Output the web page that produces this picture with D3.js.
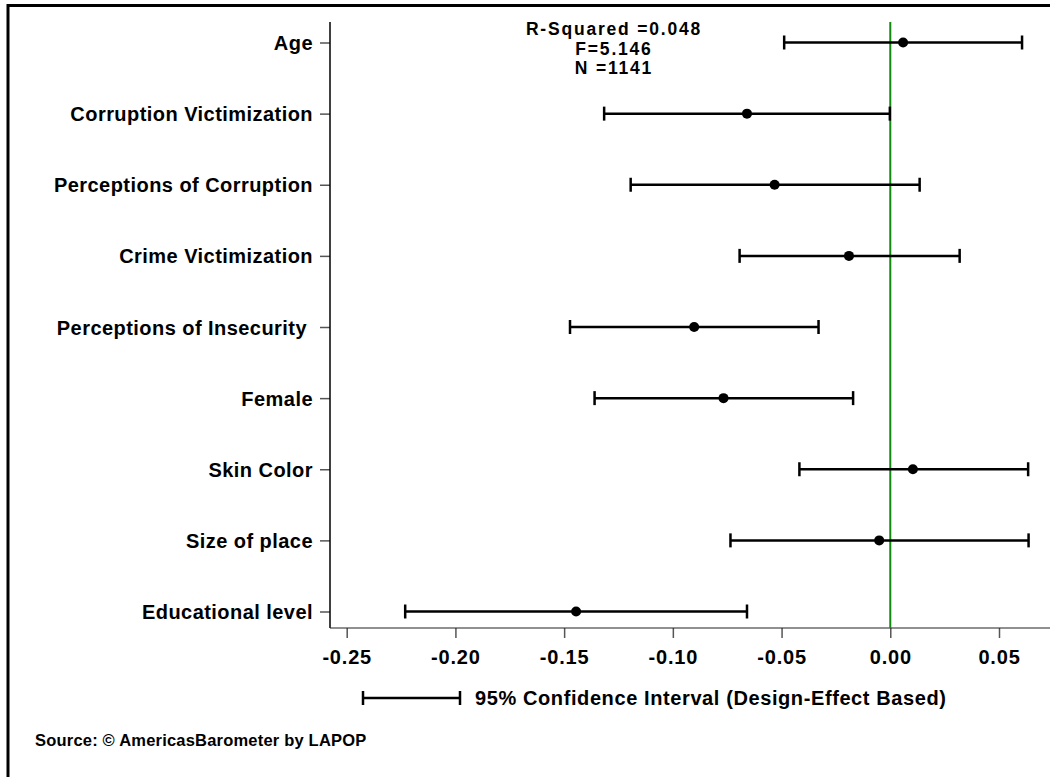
<!DOCTYPE html>
<html>
<head>
<meta charset="utf-8">
<script src="https://cdn.jsdelivr.net/npm/d3@7"></script>
<style>
  html, body { margin: 0; padding: 0; background: #fff; }
  svg { display: block; }
  text { font-family: "Liberation Sans", Arial, sans-serif; font-weight: bold; fill: #000; }
</style>
</head>
<body>
<svg id="chart" width="1050" height="777"></svg>
<script>
// ---- data ----
const categories = [
  "Age",
  "Corruption Victimization",
  "Perceptions of Corruption",
  "Crime Victimization",
  "Perceptions of Insecurity\u00A0",
  "Female",
  "Skin Color",
  "Size of place",
  "Educational level"
];
const estimates = [0.0059, -0.0659, -0.0532, -0.0190, -0.0902, -0.0767, 0.0104, -0.0051, -0.1445];
const lowerCI   = [-0.0488, -0.1316, -0.1194, -0.0693, -0.1473, -0.1360, -0.0418, -0.0735, -0.2231];
const upperCI   = [0.0606, -0.0002, 0.0135, 0.0319, -0.0330, -0.0171, 0.0634, 0.0636, -0.0659];
const xTicks = [-0.25, -0.20, -0.15, -0.10, -0.05, 0.00, 0.05];
const statsLines = ["R-Squared =0.048", "F=5.146", "N =1141"];
const legendLabel = "95% Confidence Interval (Design-Effect Based)";
const sourceLabel = "Source: \u00A9 AmericasBarometer by LAPOP";

const rows = categories.map((c, i) => ({ cat: c, est: estimates[i], lo: lowerCI[i], hi: upperCI[i] }));

// ---- layout ----
const svg = d3.select("#chart");
const plotLeft = 330, plotTop = 22, plotBottom = 628, plotRight = 1060;

const x = d3.scaleLinear().domain([-0.25, 0.05]).range([346.7, 999]);
const y = d3.scalePoint().domain(categories).range([42.5, 611.5]);

// outer frame
svg.append("rect")
  .attr("x", 8).attr("y", 5.5).attr("width", 1100).attr("height", 800)
  .attr("fill", "none").attr("stroke", "#000").attr("stroke-width", 3);

// y axis
const yAxis = d3.axisLeft(y).tickSize(10).tickPadding(7);
const gy = svg.append("g").attr("transform", `translate(${plotLeft},0)`).call(yAxis);
gy.select(".domain").remove();
gy.selectAll(".tick line").attr("stroke", "#555").attr("stroke-width", 1.5);
gy.selectAll(".tick text").style("font-size", "20px").style("letter-spacing", "0.45px")
  .attr("fill", "#000").attr("dy", "0.35em").style("white-space", "pre");
svg.append("line").attr("x1", plotLeft).attr("x2", plotLeft)
  .attr("y1", plotTop).attr("y2", plotBottom).attr("stroke", "#000").attr("stroke-width", 1.5);

// x axis
const xAxis = d3.axisBottom(x).tickValues(xTicks).tickFormat(d => d.toFixed(2)).tickSize(10).tickPadding(12);
const gx = svg.append("g").attr("transform", `translate(0,${plotBottom})`).call(xAxis);
gx.select(".domain").remove();
gx.selectAll(".tick line").attr("stroke", "#555").attr("stroke-width", 1.5);
gx.selectAll(".tick text").style("font-size", "20px").style("letter-spacing", "0.8px").attr("fill", "#000");
svg.append("line").attr("x1", plotLeft).attr("x2", plotRight)
  .attr("y1", plotBottom).attr("y2", plotBottom).attr("stroke", "#222").attr("stroke-width", 1.2);

// zero reference line
svg.append("line").attr("x1", x(0)).attr("x2", x(0))
  .attr("y1", plotTop).attr("y2", plotBottom)
  .attr("stroke", "#128a12").attr("stroke-width", 2);

// error bars
const capH = 7;
const g = svg.append("g");
const bar = g.selectAll("g.bar").data(rows).join("g").attr("class", "bar");
bar.append("line").attr("x1", d => x(d.lo)).attr("x2", d => x(d.hi))
  .attr("y1", d => y(d.cat)).attr("y2", d => y(d.cat))
  .attr("stroke", "#000").attr("stroke-width", 2.5);
bar.append("line").attr("x1", d => x(d.lo)).attr("x2", d => x(d.lo))
  .attr("y1", d => y(d.cat) - capH).attr("y2", d => y(d.cat) + capH)
  .attr("stroke", "#000").attr("stroke-width", 2.5);
bar.append("line").attr("x1", d => x(d.hi)).attr("x2", d => x(d.hi))
  .attr("y1", d => y(d.cat) - capH).attr("y2", d => y(d.cat) + capH)
  .attr("stroke", "#000").attr("stroke-width", 2.5);
bar.append("circle").attr("cx", d => x(d.est)).attr("cy", d => y(d.cat))
  .attr("r", 5).attr("fill", "#000");

// stats annotation
svg.append("g").selectAll("text").data(statsLines).join("text")
  .attr("x", 614).attr("y", (d, i) => 35 + i * 19.5)
  .attr("text-anchor", "middle")
  .style("font-size", "17.5px").style("letter-spacing", "1.8px")
  .text(d => d);

// legend
const legY = 698;
svg.append("line").attr("x1", 363).attr("x2", 460).attr("y1", legY).attr("y2", legY)
  .attr("stroke", "#000").attr("stroke-width", 2.5);
[363, 460].forEach(px => svg.append("line").attr("x1", px).attr("x2", px)
  .attr("y1", legY - capH).attr("y2", legY + capH).attr("stroke", "#000").attr("stroke-width", 2.5));
svg.append("text").attr("x", 475).attr("y", legY + 7)
  .style("font-size", "20px").style("letter-spacing", "0.6px").text(legendLabel);

// source
svg.append("text").attr("x", 35).attr("y", 746)
  .style("font-size", "16.5px").style("letter-spacing", "0.2px").text(sourceLabel);
</script>
</body>
</html>
